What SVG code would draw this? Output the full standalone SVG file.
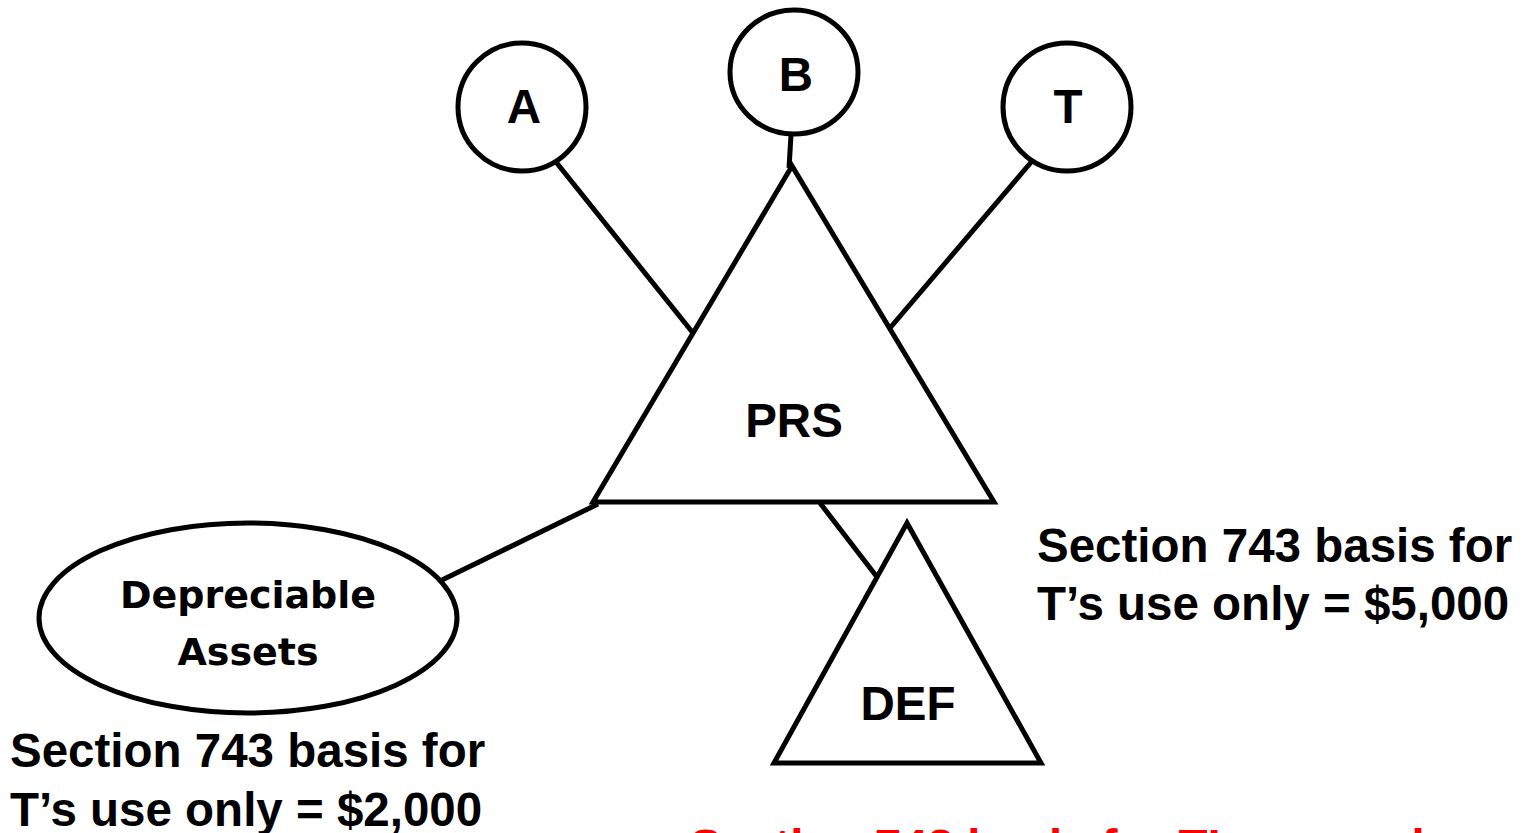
<svg xmlns="http://www.w3.org/2000/svg" width="1523" height="833" viewBox="0 0 1523 833">
  <style>
    .shape { fill: #ffffff; stroke: #000000; stroke-width: 5; }
    .link { fill: none; stroke: #000000; stroke-width: 5; }
    .lbl { font-family: "Liberation Sans", Arial, sans-serif; font-weight: bold; font-size: 47.5px; fill: #000000; }
    .mid { text-anchor: middle; }
    .asset { font-family: "DejaVu Sans", Tahoma, sans-serif; font-weight: bold; font-size: 38px; fill: #000000; text-anchor: middle; }
    .note { font-family: "Liberation Sans", Arial, sans-serif; font-weight: bold; font-size: 47.5px; fill: #000000; }
    .red { fill: #ff0000; }
  </style>
  <rect width="1523" height="833" fill="#ffffff"/>

  <!-- connectors -->
  <g id="connectors">
    <line class="link" x1="556" y1="162" x2="693" y2="333"/>
    <line class="link" x1="791" y1="135" x2="789" y2="168"/>
    <line class="link" x1="1033" y1="160" x2="890" y2="328"/>
    <line class="link" x1="442" y1="580" x2="598" y2="504"/>
    <line class="link" x1="820" y1="503" x2="877" y2="577"/>
  </g>

  <!-- partners -->
  <g id="node-A">
    <ellipse class="shape" cx="522" cy="107" rx="64" ry="64"/>
    <text class="lbl mid" x="524" y="123">A</text>
  </g>
  <g id="node-B">
    <ellipse class="shape" cx="794" cy="72" rx="64" ry="62"/>
    <text class="lbl mid" x="796" y="91">B</text>
  </g>
  <g id="node-T">
    <ellipse class="shape" cx="1067" cy="107" rx="64" ry="64"/>
    <text class="lbl mid" x="1068" y="123">T</text>
  </g>

  <!-- upper-tier partnership -->
  <g id="node-PRS">
    <polygon class="shape" points="792,166 593,502 994,502"/>
    <text class="lbl mid" x="794" y="437">PRS</text>
  </g>

  <!-- lower-tier partnership -->
  <g id="node-DEF">
    <polygon class="shape" points="907,523 774,763 1041,763"/>
    <text class="lbl mid" x="908" y="720">DEF</text>
  </g>

  <!-- asset pool -->
  <g id="node-assets">
    <ellipse class="shape" cx="248" cy="618" rx="209" ry="95"/>
    <text class="asset" x="248" y="608">Depreciable</text>
    <text class="asset" x="248" y="665">Assets</text>
  </g>

  <!-- basis notes -->
  <g id="note-right">
    <text class="note" x="1037" y="562">Section 743 basis for</text>
    <text class="note" x="1037" y="620">T’s use only = $5,000</text>
  </g>
  <g id="note-left">
    <text class="note" x="10" y="767">Section 743 basis for</text>
    <text class="note" x="10" y="826">T’s use only = $2,000</text>
  </g>
  <!-- last line runs past the bottom edge, only its top shows -->
  <g id="note-bottom">
    <text class="note red" x="690" y="863">Section 743 basis for T’s use only</text>
  </g>
</svg>
